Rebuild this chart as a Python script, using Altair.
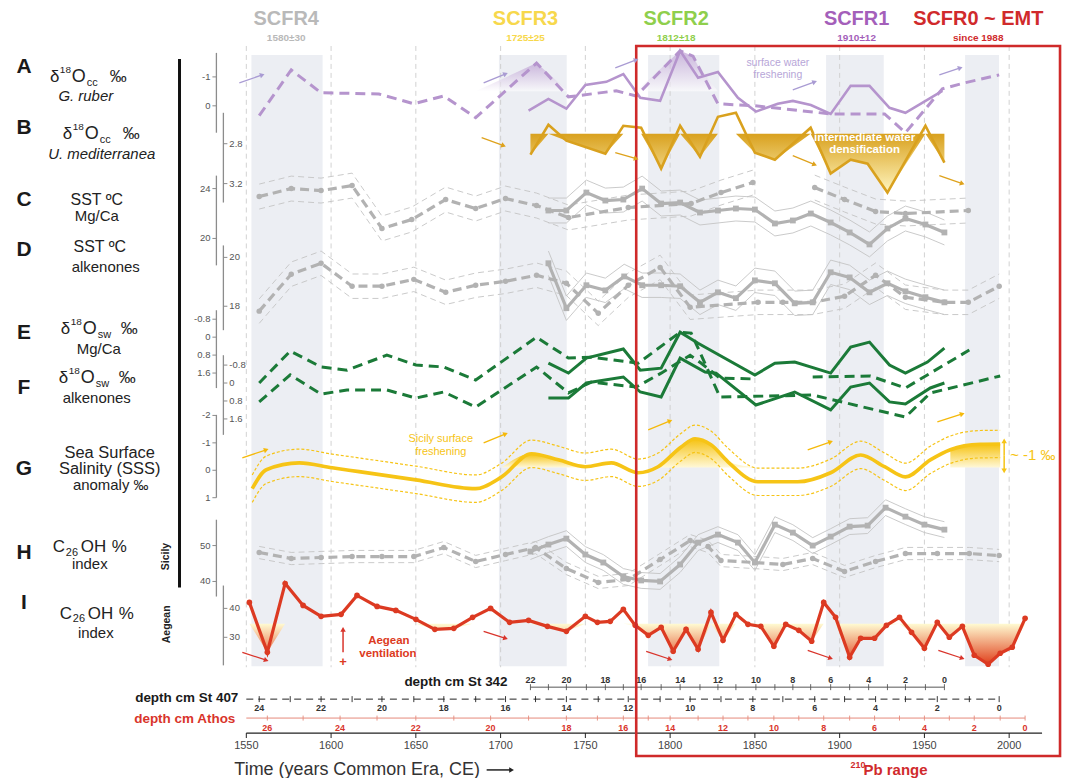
import math
import altair as alt
import pandas as pd

FONT = "Liberation Sans"

# ------------------------------------------------------------------ data
SCFR_START = [1553, 1699, 1787, 1892, 1974]
SCFR_END = [1595, 1739, 1829, 1926, 1994]
GRID_YEARS = [1550, 1600, 1650, 1700, 1750, 1800, 1850, 1900, 1950, 2000]

# A  d18O G. ruber (permil)
A_DASH_YEAR = [1557.6, 1576.5, 1594.1, 1628.2, 1648.8, 1666.5, 1685.3, 1721.2, 1740.0, 1768.2, 1780.0,
               1805.9, 1813.5, 1816.5, 1828.2, 1850.0, 1894.7, 1926.5, 1938.8, 1960.6, 1973.5, 1994.1]
A_DASH_VAL = [0.34, -1.24, -0.45, -0.41, -0.07, -0.34, 0.41, -1.48, -0.31, -0.52, -0.34,
              -1.9, -1.72, -1.38, -0.07, 0.0, 0.28, 0.28, 0.93, -0.59, -0.79, -1.07]
A_SOL_YEAR = [1716.5, 1728.2, 1738.8, 1750.0, 1762.4, 1772.4, 1782.4, 1794.1, 1805.9, 1816.5, 1828.2,
              1840.0, 1850.6, 1863.5, 1872.4, 1883.0, 1894.7, 1906.5, 1917.6, 1929.4, 1938.8, 1960.6]
A_SOL_VAL = [0.17, -0.24, 0.1, -0.72, -0.83, -1.1, -0.28, -0.17, -1.9, -0.97, -1.17,
             -0.28, 0.2, -0.07, -0.17, -0.03, 0.28, -0.69, -0.69, 0.07, 0.24, -0.52]
A_FILL_RANGES = [(1685, 1741), (1780, 1829)]
A_TICKS = [-1, 0]

# B  d18O U. mediterranea
B_YEAR = [1717.6, 1728.2, 1738.8, 1761.8, 1772.4, 1782.9, 1794.7, 1805.9, 1817.6, 1828.2,
          1838.8, 1850.0, 1861.8, 1882.9, 1894.7, 1906.5, 1916.5, 1928.2, 1950.6, 1961.8]
B_VAL = [2.91, 2.61, 2.77, 2.9, 2.62, 2.64, 3.05, 2.62, 2.93, 2.53,
         2.49, 2.89, 2.96, 2.64, 3.1, 2.96, 3.0, 3.29, 2.62, 2.99]
B_TICKS = [2.8, 3.2]

# C  SST Mg/Ca
C_DASH1_YEAR = [1557.6, 1576.5, 1594.1, 1612.4, 1630.0, 1647.6, 1667.6, 1685.3, 1702.9, 1721.2,
                1740.0, 1775.3, 1812.4, 1830.0, 1848.8]
C_DASH1_VAL = [23.36, 24.0, 23.84, 24.24, 20.8, 21.52, 23.12, 22.4, 23.2, 22.64,
               21.68, 22.48, 22.8, 23.68, 24.48]
C_DASH2_YEAR = [1885.3, 1902.9, 1921.2, 1938.8, 1975.9]
C_DASH2_VAL = [24.08, 23.12, 22.16, 22.0, 22.24]
C_SOL_YEAR = [1728.2, 1738.8, 1750.6, 1761.8, 1772.4, 1783.5, 1794.7, 1805.9, 1817.6, 1828.2, 1838.8,
              1850.0, 1861.8, 1872.4, 1883.0, 1894.7, 1905.9, 1917.6, 1928.2, 1938.8, 1950.6, 1961.8]
C_SOL_VAL = [22.24, 22.24, 23.68, 23.04, 23.12, 24.0, 22.8, 22.88, 22.08, 22.24, 22.4,
             22.32, 21.2, 21.44, 22.0, 21.28, 20.48, 19.52, 20.8, 21.6, 21.12, 20.48]
C_ERR = 1.0
C_TICKS = [24, 20]

# D  SST alkenones
D_DASH_YEAR = [1557.6, 1576.5, 1594.1, 1612.4, 1630.0, 1648.8, 1667.6, 1685.3, 1702.9, 1721.2, 1738.8,
               1757.6, 1775.3, 1794.1, 1811.8, 1851.8, 1866.5, 1884.1, 1902.9, 1921.2, 1938.8, 1961.8,
               1975.9, 1994.1]
D_DASH_VAL = [17.8, 19.31, 19.76, 18.82, 18.82, 19.1, 18.57, 18.86, 19.02, 19.27, 18.94,
              17.71, 18.86, 19.59, 17.96, 18.16, 18.16, 18.16, 18.41, 19.27, 18.37, 18.16,
              18.16, 18.82]
D_SOL_YEAR = [1728.2, 1738.8, 1750.6, 1761.8, 1772.9, 1783.5, 1794.7, 1805.9, 1817.6, 1828.2, 1838.8,
              1850.0, 1861.8, 1873.5, 1884.1, 1894.7, 1905.9, 1917.6, 1928.2, 1938.8, 1950.6, 1961.8]
D_SOL_VAL = [19.76, 17.92, 18.86, 18.65, 19.22, 18.86, 18.86, 18.82, 18.16, 18.57, 18.33,
             19.06, 18.94, 18.12, 18.16, 19.39, 19.18, 18.57, 18.94, 18.61, 18.37, 18.16]
D_ERR = 0.5
D_TICKS = [20, 18]

# E  d18Osw Mg/Ca
E_DASH_YEAR = [1557.6, 1575.9, 1594.1, 1609.4, 1632.9, 1650.0, 1666.5, 1685.3, 1721.2, 1740.0,
               1753.5, 1781.2, 1805.9, 1812.4, 1816.5, 1829.4, 1884.1, 1938.8, 1953.5, 1994.7]
E_DASH_VAL = [2.04, 0.62, 1.33, 1.47, 0.8, 1.24, 1.33, 1.91, 0.0, 0.93,
              0.89, 1.16, -0.22, -0.18, 0.49, 2.67, 2.58, 3.56, 2.49, 1.73]
E_SOL_YEAR = [1728.2, 1740.0, 1750.6, 1772.4, 1782.4, 1794.7, 1805.9, 1816.5, 1850.0, 1861.8,
              1873.5, 1894.7, 1906.5, 1917.6, 1929.4, 1938.8, 1951.8, 1961.8]
E_SOL_VAL = [1.16, 1.6, 0.93, 0.53, 1.47, 1.38, -0.22, 0.27, 1.69, 1.16,
             1.11, 1.6, 0.44, 0.22, 1.24, 1.6, 1.11, 0.49]
E_TICKS = [-0.8, 0, 0.8, 1.6]

# F  d18Osw alkenones
F_DASH1_YEAR = [1557.6, 1575.9, 1594.1, 1609.4, 1632.9, 1650.0, 1666.5, 1685.3, 1721.2, 1740.0,
                1753.5, 1780.0, 1794.7, 1811.8, 1818.2, 1829.4, 1850.0]
F_DASH1_VAL = [0.84, -0.36, 0.49, 0.31, 0.31, 0.67, 0.4, 1.07, -0.71, 0.44,
               -0.04, 0.18, -0.44, -1.24, -0.89, -0.22, -0.18]
F_DASH2_YEAR = [1884.1, 1918.2, 1938.8, 1976.5]
F_DASH2_VAL = [-0.27, -0.31, 0.22, -1.47]
F_SOL_YEAR = [1728.2, 1740.0, 1750.6, 1772.4, 1782.4, 1794.7, 1805.9, 1820.6, 1827.1, 1850.6,
              1873.5, 1894.7, 1906.5, 1917.6, 1929.4, 1938.8, 1953.5, 1961.8]
F_SOL_VAL = [0.67, 0.67, 0.0, -0.27, 0.4, 0.62, -1.11, -0.49, -0.44, 0.98,
             0.4, 1.2, 0.18, 0.0, 0.84, 0.93, 0.22, 0.0]
F_TICKS = [-0.8, 0, 0.8, 1.6]

# G  SSS anomaly
G_YEAR = [1553.5, 1561.8, 1581.2, 1600.6, 1616.5, 1650.0, 1685.3, 1700.6, 1718.2, 1734.1, 1750.0,
          1765.3, 1781.2, 1792.9, 1806.5, 1814.7, 1824.1, 1834.1, 1851.8, 1875.3, 1894.7, 1912.4,
          1926.5, 1938.8, 1953.5, 1965.3, 1973.5, 1982.9, 1994.7]
G_VAL = [0.67, -0.02, -0.27, -0.09, 0.05, 0.35, 0.67, 0.24, -0.6, -0.38, -0.13,
         -0.27, 0.09, -0.13, -0.85, -1.15, -0.93, -0.31, 0.42, 0.42, 0.09, -0.56,
         -0.13, 0.24, -0.38, -0.75, -0.89, -0.95, -0.96]
G_ERR = 0.5
G_FILL_RANGES = [(1700, 1751), (1790, 1852), (1964, 1995)]
G_TICKS = [-2, -1, 0, 1]

# H  C26OH Sicily
H_DASH_YEAR = [1557.6, 1576.5, 1594.1, 1612.4, 1630.0, 1648.8, 1666.5, 1685.3, 1702.9, 1720.6, 1738.8,
               1757.6, 1775.3, 1794.1, 1811.8, 1822.4, 1830.0, 1850.0, 1866.5, 1884.1, 1902.9, 1921.2,
               1938.8, 1957.6, 1976.5, 1994.1]
H_DASH_VAL = [48.06, 46.39, 46.67, 46.94, 46.94, 46.94, 49.44, 45.56, 47.5, 49.44, 43.61,
              39.72, 40.56, 46.11, 51.39, 49.72, 45.83, 45.28, 44.72, 46.39, 42.78, 45.56,
              47.78, 47.78, 47.78, 47.22]
H_SOL_YEAR = [1717.6, 1728.2, 1738.8, 1750.0, 1760.6, 1772.4, 1782.9, 1794.1, 1805.9, 1816.5, 1828.2,
              1840.0, 1850.0, 1861.8, 1872.4, 1884.1, 1894.7, 1905.9, 1916.5, 1927.1, 1938.8, 1950.0,
              1961.8]
H_SOL_VAL = [48.33, 50.28, 51.94, 47.5, 45.28, 41.39, 40.28, 40.0, 44.72, 50.83, 53.06,
             50.83, 45.28, 55.83, 53.61, 50.0, 52.5, 55.28, 55.56, 60.56, 58.06, 55.83,
             54.44]
H_ERR_DASH = 1.7
H_ERR_SOL = 2.2
H_TICKS = [50, 40]

# I  C26OH Aegean
I_YEAR = [1551.8, 1562.4, 1572.9, 1583.5, 1594.1, 1605.9, 1615.3, 1627.1, 1638.2, 1650.0, 1661.2,
          1672.4, 1683.5, 1694.1, 1705.3, 1716.5, 1727.6, 1738.8, 1750.0, 1757.1, 1764.7, 1772.4,
          1779.4, 1787.1, 1794.7, 1801.8, 1809.4, 1816.5, 1824.1, 1831.2, 1838.8, 1845.9, 1853.5,
          1861.2, 1868.2, 1875.9, 1883.5, 1890.6, 1897.6, 1905.9, 1912.4, 1920.6, 1927.6, 1935.3,
          1942.4, 1950.0, 1957.6, 1964.7, 1972.4, 1979.4, 1987.6, 1994.7, 2001.8, 2009.4]
I_VAL = [42.07, 24.83, 48.62, 41.03, 37.24, 37.93, 44.48, 40.69, 39.31, 36.21, 32.76,
         33.1, 36.9, 40.0, 35.17, 35.86, 33.79, 32.07, 37.24, 35.17, 35.52, 39.66,
         34.14, 30.69, 33.45, 25.17, 32.76, 25.86, 38.62, 28.97, 37.93, 34.48, 33.79,
         26.9, 34.48, 32.41, 28.62, 42.07, 36.9, 23.1, 29.66, 29.66, 34.14, 36.9,
         31.72, 26.21, 35.17, 30.0, 33.79, 23.79, 20.69, 24.48, 26.55, 36.55]
I_BASE = 34.7
I_TICKS = [40, 30]

# depth scales (depth cm -> age)
D342_DEPTH = [22, 21, 20, 19, 18, 17, 16, 15, 14, 13, 12, 11, 10, 9, 8, 7, 6, 5, 4, 3, 2, 1, 0]
D342_YEAR = [1717.6, 1728.2, 1738.8, 1750.6, 1761.8, 1772.4, 1782.9, 1794.7, 1805.9, 1817.6, 1828.2,
             1838.8, 1850.6, 1861.8, 1872.4, 1882.9, 1894.7, 1905.9, 1917.1, 1928.2, 1938.8, 1950.6,
             1961.8]
D407_DEPTH = [24, 23, 22, 21, 20, 19, 18, 17, 16, 15, 14, 13, 12, 11, 10, 9, 8, 7, 6, 5, 4, 3, 2, 1, 0]
D407_YEAR = [1557.6, 1575.9, 1594.1, 1612.4, 1630.0, 1648.8, 1666.5, 1685.3, 1702.9, 1720.6, 1738.8,
             1757.6, 1775.3, 1794.1, 1811.8, 1830.0, 1848.8, 1866.5, 1885.3, 1902.9, 1921.2, 1938.8,
             1957.6, 1976.5, 1994.1]
ATHOS_DEPTH = [26, 25, 24, 23, 22, 21, 20, 19, 18, 17, 16, 15, 14, 13, 12, 11, 10, 9, 8, 7, 6, 5, 4,
               3, 2, 1, 0]
ATHOS_YEAR = [1562.4, 1583.5, 1605.3, 1627.1, 1650.0, 1672.4, 1694.1, 1716.5, 1738.8, 1757.1, 1772.4,
              1787.1, 1800.0, 1816.5, 1831.2, 1845.9, 1861.2, 1875.9, 1890.6, 1905.9, 1920.6, 1935.3,
              1950.0, 1964.7, 1979.4, 1994.7, 2009.4]

# ------------------------------------------------------------------ layout
W, H = 798, 724
OX, OY = 247, 10          # page position of the plot origin
XDOM = [1550, 2019.4]
XS = alt.Scale(domain=XDOM, nice=False, zero=False)
DUMMY = pd.DataFrame({"d": [0]})

PURPLE = "#b594cd"
OCHRE = "#d9a11e"
GREY = "#b2b2b2"
GREY_T = "#c4c4c4"
GREEN = "#1b7a38"
GOLD = "#f6c416"
RED = "#dc3a22"


def px(x):
    return x - OX


def py(y):
    return y - OY


def yscale(v1, y1, v2, y2):
    k = (v2 - v1) / (y2 - y1)
    top = v1 + (OY - y1) * k
    bot = v1 + (OY + H - y1) * k
    if top > bot:
        return alt.Scale(domain=[bot, top], nice=False, zero=False)
    return alt.Scale(domain=[top, bot], reverse=True, nice=False, zero=False)


SA = yscale(-1, 76, 0, 105)
SB = yscale(2.8, 143, 3.2, 183)
SC = yscale(24, 188, 20, 238)
SD = yscale(20, 257, 18, 306)
SE = yscale(-0.8, 319, 1.6, 373)
SF = yscale(-0.8, 365, 1.6, 419)
SG = yscale(-1, 443, 1, 498)
SH = yscale(50, 546, 40, 582)
SI = yscale(40, 609, 30, 638)


def X(field="year"):
    return alt.X(field, type="quantitative", scale=XS, axis=None, title=None)


def Y(S, field="v"):
    return alt.Y(field, type="quantitative", scale=S, axis=None, title=None)


def series(*segs):
    rows = []
    for i, (ys, vs) in enumerate(segs):
        for yr, v in zip(ys, vs):
            rows.append({"year": yr, "v": v, "seg": i})
    return pd.DataFrame(rows)


def ranged(years, vals, ranges):
    rows = []
    for gi, (a, b) in enumerate(ranges):
        for yr, v in zip(years, vals):
            if a <= yr <= b:
                rows.append({"year": yr, "v": v, "seg": gi})
    return pd.DataFrame(rows)


def line(df, S, color, width, dash=None, interp=None):
    mk = dict(color=color, strokeWidth=width)
    if dash:
        mk["strokeDash"] = dash
    if interp:
        mk["interpolate"] = interp
    return alt.Chart(df).mark_line(**mk).encode(x=X(), y=Y(S), detail="seg:N")


def pts(df, S, color, shape="circle", size=30):
    return alt.Chart(df).mark_point(shape=shape, filled=True, size=size, color=color,
                                    opacity=1, strokeWidth=0).encode(x=X(), y=Y(S))


def envelope(df, err, S, color, dash=None, width=0.9, interp=None):
    mk = dict(color=color, strokeWidth=width)
    if dash:
        mk["strokeDash"] = dash
    if interp:
        mk["interpolate"] = interp
    return (alt.Chart(df)
            .transform_calculate(lo=f"datum.v - {err}", hi=f"datum.v + {err}")
            .transform_fold(["lo", "hi"], as_=["k", "e"])
            .transform_calculate(g="datum.k + '_' + datum.seg")
            .mark_line(**mk)
            .encode(x=X(), y=Y(S, "e"), detail="g:N"))


def grad(c_top, c_bot):
    return alt.Gradient(gradient="linear",
                        stops=[alt.GradientStop(color=c_top, offset=0),
                               alt.GradientStop(color=c_bot, offset=1)],
                        x1=0, x2=0, y1=0, y2=1)


def fill_area(df, S, base, mode, gradient, interp=None, opacity=1.0):
    expr = f"min(datum.v, {base})" if mode == "min" else f"max(datum.v, {base})"
    mk = dict(color=gradient, opacity=opacity)
    if interp:
        mk["interpolate"] = interp
    return (alt.Chart(df)
            .transform_calculate(c=expr, b=str(base))
            .mark_area(**mk)
            .encode(x=X(), y=Y(S, "c"), y2=alt.Y2("b"), detail="seg:N"))


def vaxis(S, v1, v2, ticks, side):
    """Short panel axis: domain segment, ticks and labels drawn through the panel's scale."""
    xline = 217 if side == "left" else 224
    xt = xline - 4 if side == "left" else xline + 4
    tdf = pd.DataFrame({"t": ticks, "lab": ["%g" % t for t in ticks]})
    dom = alt.Chart(DUMMY).mark_rule(color="#8c8c8c", strokeWidth=1.3).encode(
        x=alt.value(px(xline)),
        y=alt.YDatum(v1, type="quantitative", scale=S, axis=None, title=None),
        y2=alt.Y2Datum(v2))
    tk = alt.Chart(tdf).mark_rule(color="#8c8c8c", strokeWidth=1).encode(
        x=alt.value(px(xline)), x2=alt.value(px(xt)), y=Y(S, "t"))
    lb = alt.Chart(tdf).mark_text(
        font=FONT, fontSize=9.5, color="#555555", baseline="middle",
        align="right" if side == "left" else "left").encode(
        x=alt.value(px(xt - 2 if side == "left" else xt + 2)), y=Y(S, "t"), text="lab:N")
    return [dom, tk, lb]


def T(text, x, y, size=12, color="#222222", weight="normal", style="normal",
      align="center", angle=None, font=FONT):
    mk = dict(text=text, fontSize=size, color=color, fontWeight=weight, fontStyle=style,
              align=align, baseline="middle", font=font)
    if angle is not None:
        mk["angle"] = angle
    return alt.Chart(DUMMY).mark_text(**mk).encode(x=alt.value(px(x)), y=alt.value(py(y)))


def arrow(x1, y1, x2, y2, color, width=1.3, head=30):
    ang = math.degrees(math.atan2(y2 - y1, x2 - x1)) % 360
    r = alt.Chart(DUMMY).mark_rule(color=color, strokeWidth=width).encode(
        x=alt.value(px(x1)), y=alt.value(py(y1)), x2=alt.value(px(x2)), y2=alt.value(py(y2)))
    h = alt.Chart(DUMMY).mark_point(shape="triangle-right", filled=True, size=head, color=color,
                                    angle=ang, opacity=1, strokeWidth=0).encode(
        x=alt.value(px(x2)), y=alt.value(py(y2)))
    return [r, h]


def d18(x0, y, sub):
    return [T("δ", x0, y, 17, align="left"),
            T("18", x0 + 10, y - 7, 10, align="left"),
            T("O", x0 + 22, y, 18, align="left"),
            T(sub, x0 + 37, y + 6, 11, align="left"),
            T("‰", x0 + 60, y, 17, align="left")]


def c26(x0, y, dy):
    return [T("C", x0, y, 17, align="left"),
            T("26", x0 + 13, y + dy, 11, align="left"),
            T("OH", x0 + 28, y, 17, align="left"),
            T("%", x0 + 59, y, 17, align="left")]


# ------------------------------------------------------------------ background
bands_df = pd.DataFrame({"start": SCFR_START, "end": SCFR_END})
bands = alt.Chart(bands_df).mark_rect(color="#eceef3").encode(
    x=X("start"), x2=alt.X2("end"), y=alt.value(py(54)), y2=alt.value(py(667)))

grid_df = pd.DataFrame({"year": GRID_YEARS})
grid = alt.Chart(grid_df).mark_rule(
    color="#cdcdcd", strokeWidth=0.9, strokeDash=[5, 4]).encode(
    x=X(), y=alt.value(py(45)), y2=alt.value(py(668)))

# bottom time axis
xaxis_line = alt.Chart(DUMMY).mark_rule(color="#222222", strokeWidth=1.2).encode(
    x=alt.XDatum(XDOM[0], type="quantitative", scale=XS, axis=None),
    x2=alt.X2Datum(XDOM[1]), y=alt.value(py(734)))
xaxis_ticks = alt.Chart(grid_df).mark_rule(color="#222222", strokeWidth=1).encode(
    x=X(), y=alt.value(py(734)), y2=alt.value(py(739)))
xaxis_labels = alt.Chart(grid_df).mark_text(
    font=FONT, fontSize=11, color="#444444", baseline="middle").encode(
    x=X(), y=alt.value(py(747)), text=alt.Text("year:Q", format="d"))

blackbar = alt.Chart(DUMMY).mark_rule(color="#111111", strokeWidth=3).encode(
    x=alt.value(px(180)), y=alt.value(py(58)), y2=alt.value(py(588)))

# ------------------------------------------------------------------ panels
a_d = series((A_DASH_YEAR, A_DASH_VAL))
a_s = series((A_SOL_YEAR, A_SOL_VAL))
panelA = alt.layer(
    fill_area(ranged(A_DASH_YEAR, A_DASH_VAL, A_FILL_RANGES), SA, -0.5, "min",
              grad("#b28fcc", "#ffffff"), opacity=0.6),
    line(a_d, SA, PURPLE, 3, [10, 6]),
    line(a_s, SA, PURPLE, 2.6),
    *vaxis(SA, -1.83, 0.93, A_TICKS, "left"),
)

b_df = series((B_YEAR, B_VAL))
panelB = alt.layer(
    fill_area(b_df, SB, 2.7, "max", grad("#d9a11e", "#fff6c0")),
    line(b_df, SB, OCHRE, 2.6),
    *vaxis(SB, 2.49, 3.39, B_TICKS, "right"),
)

c_d = series((C_DASH1_YEAR, C_DASH1_VAL), (C_DASH2_YEAR, C_DASH2_VAL))
c_s = series((C_SOL_YEAR, C_SOL_VAL))
panelC = alt.layer(
    envelope(c_d, C_ERR, SC, GREY_T, [6, 4]),
    envelope(c_s, C_ERR, SC, GREY_T),
    line(c_d, SC, GREY, 3.2, [9, 5]),
    line(c_s, SC, GREY, 3.2),
    pts(c_d, SC, GREY),
    pts(c_s, SC, GREY, "square", 34),
    *vaxis(SC, 25.04, 17.84, C_TICKS, "left"),
)

d_d = series((D_DASH_YEAR, D_DASH_VAL))
d_s = series((D_SOL_YEAR, D_SOL_VAL))
panelD = alt.layer(
    envelope(d_d, D_ERR, SD, GREY_T, [6, 4]),
    envelope(d_s, D_ERR, SD, GREY_T),
    line(d_d, SD, GREY, 3.2, [9, 5]),
    line(d_s, SD, GREY, 3.2),
    pts(d_d, SD, GREY),
    pts(d_s, SD, GREY, "square", 34),
    *vaxis(SD, 20.49, 17.02, D_TICKS, "right"),
)

e_d = series((E_DASH_YEAR, E_DASH_VAL))
e_s = series((E_SOL_YEAR, E_SOL_VAL))
panelE = alt.layer(
    line(e_d, SE, GREEN, 3, [10, 6]),
    line(e_s, SE, GREEN, 3),
    *vaxis(SE, -1.2, 2.27, E_TICKS, "left"),
)

f_d = series((F_DASH1_YEAR, F_DASH1_VAL), (F_DASH2_YEAR, F_DASH2_VAL))
f_s = series((F_SOL_YEAR, F_SOL_VAL))
panelF = alt.layer(
    line(f_d, SF, GREEN, 3, [10, 6]),
    line(f_s, SF, GREEN, 3),
    *vaxis(SF, -1.24, 2.31, F_TICKS, "right"),
)

g_df = series((G_YEAR, G_VAL))
panelG = alt.layer(
    fill_area(ranged(G_YEAR, G_VAL, G_FILL_RANGES), SG, -0.1, "min",
              grad("#f6c20f", "#fff8d8"), interp="monotone"),
    envelope(g_df, G_ERR, SG, GOLD, [3, 2], 1.2, "monotone"),
    line(g_df, SG, GOLD, 3.6, interp="monotone"),
    *vaxis(SG, -2.02, 1.0, G_TICKS, "left"),
)

h_d = series((H_DASH_YEAR, H_DASH_VAL))
h_s = series((H_SOL_YEAR, H_SOL_VAL))
panelH = alt.layer(
    envelope(h_d, H_ERR_DASH, SH, GREY_T, [6, 4]),
    envelope(h_s, H_ERR_SOL, SH, GREY_T),
    line(h_d, SH, GREY, 3.2, [9, 5]),
    line(h_s, SH, GREY, 3.2),
    pts(h_d, SH, GREY),
    pts(h_s, SH, GREY, "square", 34),
    *vaxis(SH, 57.2, 35.8, H_TICKS, "left"),
)

i_df = series((I_YEAR, I_VAL))
panelI = alt.layer(
    fill_area(i_df, SI, I_BASE, "min", grad("#fffbd2", "#e0401c")),
    line(i_df, SI, RED, 3.2),
    pts(i_df, SI, RED, "circle", 32),
    *vaxis(SI, 47.9, 20.3, I_TICKS, "right"),
)

# ------------------------------------------------------------------ depth scales
d342 = pd.DataFrame({"year": D342_YEAR, "depth": D342_DEPTH})
d407 = pd.DataFrame({"year": D407_YEAR, "depth": D407_DEPTH})
dath = pd.DataFrame({"year": ATHOS_YEAR, "depth": ATHOS_DEPTH})


def depth_scale(df, y_line, y_lab, color, lab_color, dash=None, start=None, end=None,
                tick_h=3, width=1.0):
    mk = dict(color=color, strokeWidth=width)
    if dash:
        mk["strokeDash"] = dash
    s = start if start is not None else min(df["year"])
    e = end if end is not None else max(df["year"])
    base = alt.Chart(DUMMY).mark_rule(**mk).encode(
        x=alt.XDatum(s, type="quantitative", scale=XS, axis=None),
        x2=alt.X2Datum(e), y=alt.value(py(y_line)))
    ticks = alt.Chart(df).mark_rule(color=color, strokeWidth=0.9).encode(
        x=X(), y=alt.value(py(y_line - tick_h)), y2=alt.value(py(y_line + tick_h)))
    labs = alt.Chart(df).transform_filter("datum.depth % 2 == 0").mark_text(
        font=FONT, fontSize=9, fontWeight="bold", color=lab_color, baseline="middle").encode(
        x=X(), y=alt.value(py(y_lab)), text=alt.Text("depth:Q", format="d"))
    return [base, ticks, labs]


depth_layers = (depth_scale(d342, 688, 681, "#555555", "#333333")
                + depth_scale(d407, 700, 709, "#222222", "#333333", dash=[7, 5],
                              start=1550, tick_h=3)
                + depth_scale(dath, 719, 729, "#e58a7a", "#d9342b", start=1550, tick_h=2.5,
                              width=1.0))

# ------------------------------------------------------------------ red box
redbox = alt.Chart(DUMMY).mark_rect(filled=False, stroke="#cf2a2a", strokeWidth=2.6).encode(
    x=alt.XDatum(1780, type="quantitative", scale=XS, axis=None),
    x2=alt.X2Datum(2030), y=alt.value(py(45)), y2=alt.value(py(757)))

# ------------------------------------------------------------------ texts
texts = []
for name, age, cx, col in [("SCFR4", "1580±30", 287, "#b9b9b9"),
                           ("SCFR3", "1725±25", 527, "#f7d84c"),
                           ("SCFR2", "1812±18", 678, "#8fcf4c"),
                           ("SCFR1", "1910±12", 859, "#a45fba"),
                           ("SCFR0 ~ EMT", "since 1988", 981, "#d02a2c")]:
    texts.append(T(name, cx, 18, 20, col, "bold"))
    texts.append(T(age, cx, 37, 10, col, "bold"))

for letter, yy in [("A", 66), ("B", 127), ("C", 199), ("D", 250), ("E", 333),
                   ("F", 388), ("G", 469), ("H", 553), ("I", 604)]:
    texts.append(T(letter, 24, yy, 21, "#1a1a1a", "bold"))

texts += d18(50, 76, "cc")
texts.append(T("G. ruber", 86, 95, 15, style="italic"))
texts += d18(63, 133, "cc")
texts.append(T("U. mediterranea", 102, 153, 15, style="italic"))
texts.append(T("SST ºC", 97, 199, 16))
texts.append(T("Mg/Ca", 97, 216, 15))
texts.append(T("SST  ºC", 100, 247, 16))
texts.append(T("alkenones", 106, 267, 15))
texts += d18(61, 329, "sw")
texts.append(T("Mg/Ca", 99, 349, 15))
texts += d18(59, 378, "sw")
texts.append(T("alkenones", 97, 398, 15))
texts.append(T("Sea Surface", 110, 453, 16.5))
texts.append(T("Salinity (SSS)", 110, 469, 16.5))
texts.append(T("anomaly ‰", 111, 485, 15))
texts += c26(53, 547, 6)
texts.append(T("index", 90, 565, 15))
texts += c26(60, 615, 5)
texts.append(T("index", 96, 634, 15))
texts.append(T("Sicily", 166, 557, 10.5, "#222222", "bold", angle=270))
texts.append(T("Aegean", 167, 625, 10.5, "#222222", "bold", angle=270))

texts.append(T("surface water", 780, 62, 10.5, "#b7a6d8"))
texts.append(T("freshening", 780, 74, 10.5, "#b7a6d8"))
texts.append(T("intermediate water", 867, 137, 11.5, "#ffffff", "bold"))
texts.append(T("densification", 867, 149, 11.5, "#ffffff", "bold"))
texts.append(T("Sicily surface", 442, 439, 11, GOLD))
texts.append(T("freshening", 442, 452, 11, GOLD))
texts.append(T("~ -1 ‰", 1013, 455, 15, GOLD, align="left"))
texts.append(T("Aegean", 390, 642, 11.5, RED, "bold"))
texts.append(T("ventilation", 389, 655, 11.5, RED, "bold"))
texts.append(T("+", 344, 663, 13, RED, "bold"))

texts.append(T("depth cm St 342", 509, 683, 13.5, "#1a1a1a", "bold", align="right"))
texts.append(T("depth cm St 407", 239, 699, 13.5, "#1a1a1a", "bold", align="right"))
texts.append(T("depth cm Athos", 236, 720, 13.5, "#d9342b", "bold", align="right"))
texts.append(T("Time (years Common Era, CE)", 235, 771, 18, "#333333", align="left"))
texts.append(T("210", 853, 766, 9, "#d02a2c", "bold", align="left"))
texts.append(T("Pb range", 866, 771, 15, "#d02a2c", "bold", align="left"))

arrows = []
for a in [(240, 82, 263, 74), (485, 82, 507, 73), (617, 67, 638, 59), (942, 74, 963, 67),
          (795, 89, 817, 81)]:
    arrows += arrow(*a, color="#a99bd3")
for a in [(483, 137, 505, 145), (617, 152, 638, 158), (795, 155, 817, 164), (942, 175, 965, 183)]:
    arrows += arrow(*a, color="#dea21c")
for a in [(243, 458, 267, 450), (485, 443, 507, 434), (650, 430, 672, 421), (810, 450, 833, 442),
          (940, 422, 965, 414)]:
    arrows += arrow(*a, color="#f5b90a")
for a in [(243, 653, 267, 661), (485, 632, 507, 639), (648, 652, 672, 660), (810, 651, 833, 659),
          (941, 651, 965, 659)]:
    arrows += arrow(*a, color="#d9342b")
arrows += arrow(344, 653, 344, 630, color="#d9342b", width=1.5)
arrows += arrow(488, 771, 513, 771, color="#222222", width=1.5)
arrows += arrow(1007, 456, 1007, 441, color=GOLD, width=1.5)
arrows += arrow(1007, 456, 1007, 471, color=GOLD, width=1.5)

layers = ([bands, grid, xaxis_line, xaxis_ticks, xaxis_labels, blackbar,
           panelA, panelB, panelC, panelD, panelE, panelF, panelG, panelH, panelI]
          + depth_layers + [redbox] + texts + arrows)

chart = (alt.layer(*layers)
         .resolve_scale(y="independent")
         .properties(width=W, height=H,
                     padding={"left": 239, "top": 2, "right": 20, "bottom": 44},
                     autosize=alt.AutoSizeParams(type="none"))
         .configure_view(strokeWidth=0))

chart.save("out.html", embed_options={"renderer": "svg", "actions": False})
